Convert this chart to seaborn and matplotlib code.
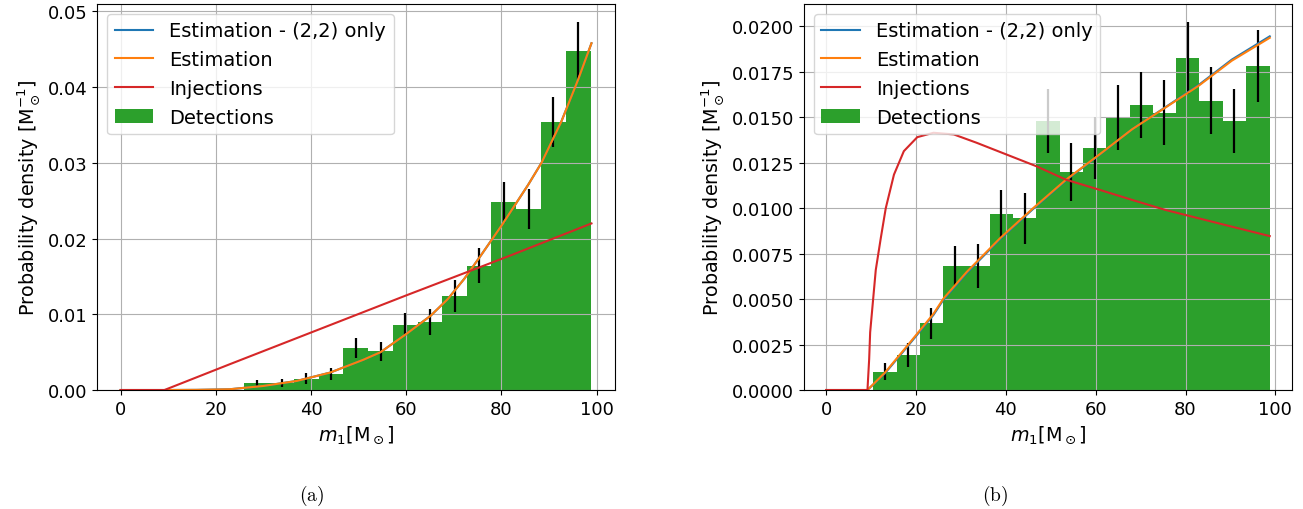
import numpy as np
import pandas as pd
import seaborn as sns
import matplotlib.pyplot as plt

# shared histogram binning (17 bins)
bin_edges = [10.5, 15.7, 20.9, 26.0, 31.2, 36.4, 41.6, 46.8, 52.0, 57.2,
             62.4, 67.6, 72.7, 77.9, 83.1, 88.3, 93.5, 98.7]

# panel (a)
det_a = [0, 0, 0, 0.00089, 0.00089, 0.0015, 0.0021, 0.00554, 0.00514, 0.00864,
         0.00895, 0.0124, 0.01643, 0.0248, 0.0239, 0.0354, 0.0448]
err_a = [0, 0, 0, 0.00049, 0.00055, 0.00073, 0.00084, 0.00137, 0.00126, 0.0015,
         0.00173, 0.00208, 0.0023, 0.0027, 0.00266, 0.0033, 0.00376]

est_x_a = [0, 9.2, 16, 22.9, 29.9, 37.0, 44.0, 51.0, 54.6, 60.0, 65.1, 68.7,
           72.2, 75.7, 80.1, 85.6, 88.4, 92.6, 96.1, 98.9]
est_a = [0, 0, 0.00002, 0.0001, 0.00053, 0.0012, 0.0023, 0.0040, 0.0050, 0.0074,
         0.0098, 0.0120, 0.0147, 0.0178, 0.0218, 0.0271, 0.0300, 0.0355, 0.0410, 0.0458]
est22_a = [0, 0, 0.00002, 0.0001, 0.00053, 0.0012, 0.0023, 0.0040, 0.0050, 0.0074,
           0.0098, 0.0120, 0.0147, 0.0178, 0.0218, 0.0271, 0.0300, 0.0355, 0.0410, 0.0458]

inj_x_a = [0, 9.2, 22.9, 60.0, 82.0, 98.9]
inj_a = [0, 0, 0.0034, 0.0125, 0.0178, 0.0220]

# panel (b)
det_b = [0.00101, 0.00192, 0.00367, 0.00682, 0.00682, 0.00966, 0.00944, 0.01479, 0.0120,
         0.01329, 0.01499, 0.01567, 0.01525, 0.01825, 0.01591, 0.0148, 0.01781]
err_b = [0.00046, 0.00064, 0.00085, 0.00112, 0.00119, 0.00135, 0.00141, 0.00176, 0.0016,
         0.00169, 0.0018, 0.00183, 0.00181, 0.00196, 0.00185, 0.00177, 0.00197]

est_x_b = [0, 9.2, 13.1, 18.06, 23.9, 26.1, 31.3, 38.7, 46.06, 53.4, 60.8, 68.1,
           75.5, 82.9, 90.3, 98.75]
est_b = [0, 0, 0.00096, 0.00243, 0.00419, 0.00502, 0.00649, 0.00834, 0.00999, 0.01156,
         0.01294, 0.01433, 0.01552, 0.01672, 0.0181, 0.01936]
est22_b = [0, 0, 0.00092, 0.00238, 0.00413, 0.00496, 0.00643, 0.00829, 0.00995, 0.01153,
           0.01292, 0.01433, 0.01554, 0.01676, 0.01816, 0.01944]

inj_x_b = [0, 9.2, 9.58, 9.8, 11.05, 12.16, 13.27, 15.1, 17.3, 20.3, 23.9, 28.4, 33.5,
           40.2, 46.8, 53.4, 60.8, 68.1, 75.5, 82.9, 90.3, 98.75]
inj_b = [0, 0, 0.0017, 0.00317, 0.0066, 0.00834, 0.00999, 0.01184, 0.01313, 0.0139,
         0.01414, 0.01405, 0.01359, 0.01294, 0.0123, 0.01156, 0.01101, 0.01045, 0.0099,
         0.00944, 0.00898, 0.00846]

plt.rcParams['font.size'] = 13


def draw_panel(ax, det, err, est_x, est22, est, inj_x, inj):
    edges = np.array(bin_edges)
    centers = 0.5 * (edges[:-1] + edges[1:])
    df = pd.DataFrame({'m1': centers, 'h': det, 'err': err})

    sns.histplot(data=df, x='m1', weights='h', bins=list(bin_edges), color='#2ca02c',
                 alpha=1, linewidth=0, ax=ax, label='Detections')

    nz = df[df['h'] > 0]
    ax.errorbar(nz['m1'], nz['h'], yerr=nz['err'], fmt='none', ecolor='k', elinewidth=1.6)

    sns.lineplot(x=est_x, y=est22, color='#1f77b4', lw=1.5, ax=ax,
                 label='Estimation - (2,2) only')
    sns.lineplot(x=est_x, y=est, color='#ff7f0e', lw=1.5, ax=ax, label='Estimation')
    sns.lineplot(x=inj_x, y=inj, color='#d62728', lw=1.5, ax=ax, label='Injections')

    ax.set_axisbelow('line')
    ax.grid(True, color='#b0b0b0', lw=0.8)
    ax.set_ylim(bottom=0)
    ax.set_xticks([0, 20, 40, 60, 80, 100])
    ax.set_xlabel(r'$m_1[\mathrm{M}_\odot]$', fontsize=13.8)
    ax.set_ylabel(r'Probability density [$\mathrm{M}_\odot^{-1}$]', fontsize=13.8)
    ax.legend(loc='upper left', fontsize=14)


fig = plt.figure(figsize=(13.03, 5.10), dpi=100)
ax1 = fig.add_axes([0.0745, 0.2333, 0.3975, 0.757])
ax2 = fig.add_axes([0.617, 0.2333, 0.3745, 0.757])

draw_panel(ax1, det_a, err_a, est_x_a, est22_a, est_a, inj_x_a, inj_a)
draw_panel(ax2, det_b, err_b, est_x_b, est22_b, est_b, inj_x_b, inj_b)

fig.text(0.2394, 0.027, r'$\mathrm{(a)}$', ha='center', va='center', fontsize=14,
         math_fontfamily='cm')
fig.text(0.7635, 0.027, r'$\mathrm{(b)}$', ha='center', va='center', fontsize=14,
         math_fontfamily='cm')

fig.savefig('out.png', dpi=100)
